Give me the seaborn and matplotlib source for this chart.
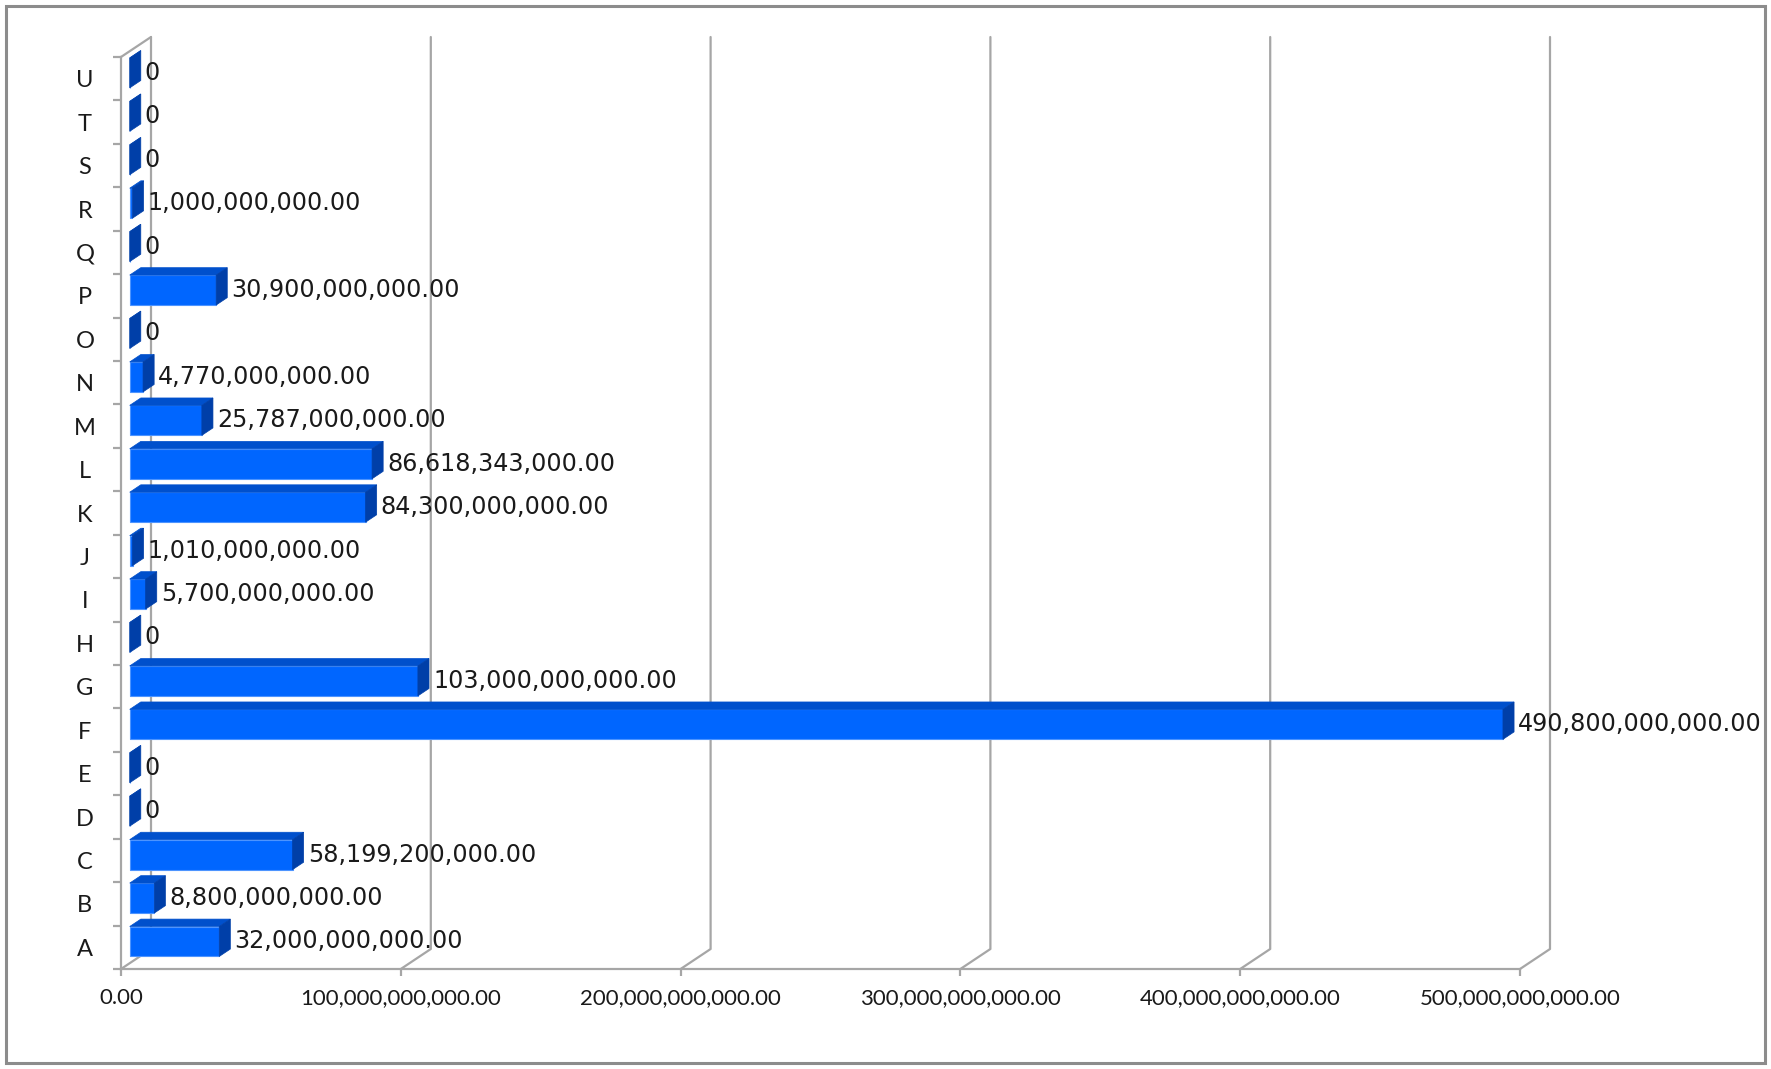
import numpy as np
import pandas as pd
import matplotlib
matplotlib.use("Agg")
import matplotlib.pyplot as plt
from matplotlib.transforms import offset_copy
from matplotlib.patches import Polygon, Rectangle
from matplotlib.lines import Line2D
from matplotlib.ticker import FuncFormatter
import seaborn as sns

# data
categories = list("ABCDEFGHIJKLMNOPQRSTU")
values = [32000000000, 8800000000, 58199200000, 0, 0, 490800000000,
          103000000000, 0, 5700000000, 1010000000, 84300000000,
          86618343000, 25787000000, 4770000000, 0, 30900000000, 0,
          1000000000, 0, 0, 0]
x_ticks = [0, 1e11, 2e11, 3e11, 4e11, 5e11]

FRONT = "#0066ff"
TOP = "#0050cc"
SIDE = "#003fa8"
GRID = "#a6a6a6"

# fake 3d: depth direction in pixels (front plane -> back wall)
DEPTH_X, DEPTH_Y = 30, 20
BAR_D0, BAR_D1 = 0.29, 0.66

sns.set_theme(style="white")
plt.rcParams["font.family"] = ["Lato", "DejaVu Sans"]

W, H = 1771, 1069
fig = plt.figure(figsize=(W / 100, H / 100), dpi=100)
ax = fig.add_axes([121 / W, 100 / H, 1399 / W, 912 / H])
ax.set_facecolor("none")

df = pd.DataFrame({"cat": categories, "value": values})
order = categories[::-1]
sns.barplot(data=df, x="value", y="cat", order=order, orient="h",
            color=FRONT, saturation=1, width=0.69, edgecolor="#4d94ff",
            linewidth=0.8, ax=ax, zorder=2)
ax.set_xlim(0, 5e11)
ax.set_ylim(20.5, -0.5)


def to_data(x, y, d):
    px = ax.transData.transform((x, y))
    return ax.transData.inverted().transform((px[0] + d * DEPTH_X, px[1] + d * DEPTH_Y))


# back wall, floor diagonals, left wall top
for xt in x_ticks:
    pts = np.array([to_data(xt, 20.5, 0), to_data(xt, 20.5, 1), to_data(xt, -0.5, 1)])
    ax.add_line(Line2D(pts[:, 0], pts[:, 1], color=GRID, lw=1.6, zorder=0.5, clip_on=False))
pts = np.array([to_data(0, -0.5, 0), to_data(0, -0.5, 1)])
ax.add_line(Line2D(pts[:, 0], pts[:, 1], color=GRID, lw=1.6, zorder=0.5, clip_on=False))

# shift front faces into the bar depth, add top and side faces
bar_shift = offset_copy(ax.transData, fig=fig, x=BAR_D0 * DEPTH_X, y=BAR_D0 * DEPTH_Y, units="dots")
for p in ax.patches:
    p.set_transform(bar_shift)
    p.set_clip_on(False)
    v = p.get_width()
    y0, y1 = p.get_y(), p.get_y() + p.get_height()
    top = [to_data(0, y0, BAR_D0), to_data(v, y0, BAR_D0), to_data(v, y0, BAR_D1), to_data(0, y0, BAR_D1)]
    side = [to_data(v, y0, BAR_D0), to_data(v, y1, BAR_D0), to_data(v, y1, BAR_D1), to_data(v, y0, BAR_D1)]
    ax.add_patch(Polygon(top, closed=True, fc=TOP, ec=TOP, lw=0.5, zorder=2, clip_on=False))
    ax.add_patch(Polygon(side, closed=True, fc=SIDE, ec=SIDE, lw=0.5, zorder=2, clip_on=False))

# data labels
label_shift = offset_copy(ax.transData, fig=fig, x=BAR_D1 * DEPTH_X + 4, y=BAR_D0 * DEPTH_Y, units="dots")
for cat, v in zip(categories, values):
    txt = "0" if v == 0 else f"{v:,.2f}"
    ax.text(v, order.index(cat), txt, transform=label_shift, ha="left", va="center",
            fontsize=17.2, family="DejaVu Sans", color="#1a1a1a", zorder=3, clip_on=False)

# axes styling
for s in ["top", "right"]:
    ax.spines[s].set_visible(False)
for s in ["left", "bottom"]:
    ax.spines[s].set_color(GRID)
    ax.spines[s].set_linewidth(1.6)
ax.set_xticks(x_ticks)
ax.xaxis.set_major_formatter(FuncFormatter(lambda v, _: f"{v:,.2f}"))
ax.tick_params(axis="x", direction="out", length=5, width=1.6, color=GRID,
               labelsize=16, pad=9, labelcolor="#1a1a1a", bottom=True)
ax.set_yticks(range(21))
ax.set_yticklabels(order)
ax.set_yticks(np.arange(-0.5, 21, 1), minor=True)
ax.tick_params(axis="y", which="major", length=0, pad=26, labelsize=17, labelcolor="#1a1a1a")
ax.tick_params(axis="y", which="minor", direction="out", length=6, width=1.6, color=GRID, left=True)
for t in ax.get_yticklabels():
    t.set_horizontalalignment("center")
ax.set_xlabel("")
ax.set_ylabel("")
ax.grid(False)

fig.patches.append(Rectangle((6 / W, 6 / H), 1 - 12 / W, 1 - 12 / H, transform=fig.transFigure,
                             fill=False, ec="#8c8c8c", lw=2.2))

fig.savefig("out.png", dpi=100)
